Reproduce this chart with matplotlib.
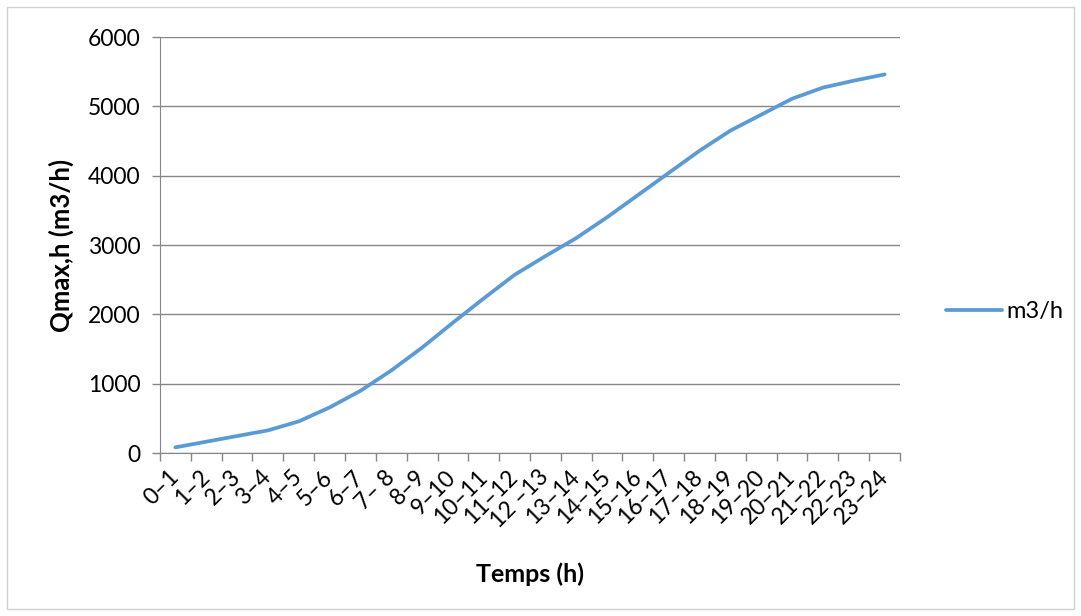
import matplotlib.pyplot as plt
from matplotlib.patches import Rectangle

# hourly slots and cumulative flow (m3/h)
periodes = ['0–1', '1–2', '2–3', '3–4', '4–5', '5–6', '6–7', '7– 8', '8–9', '9–10',
            '10–11', '11–12', '12 –13', '13–14', '14–15', '15–16', '16–17', '17–18',
            '18–19', '19–20', '20–21', '21–22', '22–23', '23–24']
debit = [82, 163, 245, 326, 456, 657, 897, 1190, 1520, 1880, 2230, 2570,
         2840, 3100, 3400, 3720, 4040, 4360, 4650, 4880, 5110, 5270, 5370, 5460]
y_ticks = [0, 1000, 2000, 3000, 4000, 5000, 6000]

plt.rcParams['font.family'] = ['Lato', 'DejaVu Sans']

fig = plt.figure(figsize=(10.81, 6.16), dpi=100)
ax = fig.add_axes([160/1081, 1-453/616, 740/1081, 416/616])

# chart area border
fig.patches.append(Rectangle((7/1081, 7/616), 1-14/1081, 1-14/616, transform=fig.transFigure,
                             fill=False, edgecolor='#d0d0d0', linewidth=1))

x = list(range(len(periodes)))
ax.plot(x, debit, color='#5B9BD5', linewidth=2.7, label='m3/h', solid_capstyle='round')

ax.set_xlim(-0.5, len(periodes) - 0.5)
ax.set_ylim(0, 6000)
ax.set_yticks(y_ticks)
ax.set_xticks([i - 0.5 for i in range(len(periodes) + 1)])
ax.set_xticklabels([])
ax.set_xticks(x, minor=True)
ax.set_xticklabels(periodes, minor=True, rotation=45, ha='right', va='center',
                   rotation_mode='anchor', fontsize=16.5)
ax.tick_params(axis='x', which='major', length=6, color='#868686', width=1)
ax.tick_params(axis='x', which='minor', length=0, pad=15)
ax.tick_params(axis='y', length=6, color='#868686', width=1, labelsize=16.5, pad=8)

ax.grid(axis='y', color='#868686', linewidth=1)
ax.set_axisbelow(True)
for s in ['top', 'right']:
    ax.spines[s].set_visible(False)
for s in ['left', 'bottom']:
    ax.spines[s].set_color('#868686')

ax.set_ylabel('Qmax,h (m3/h)', fontsize=18.5, fontweight='bold', labelpad=10)
ax.set_xlabel('Temps (h)', fontsize=18, fontweight='bold', labelpad=22)

ax.legend(loc='center left', bbox_to_anchor=(1.033, 0.34), frameon=False, fontsize=17,
          handlelength=2.4, handletextpad=0.15)

fig.savefig('out.png', dpi=100)
